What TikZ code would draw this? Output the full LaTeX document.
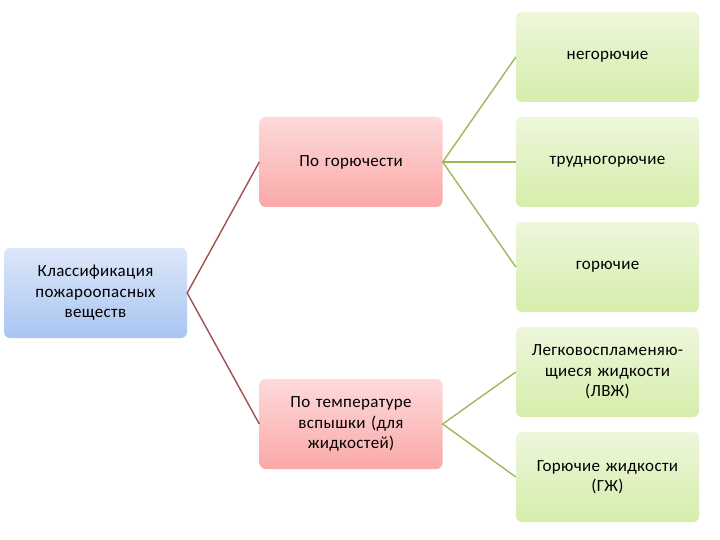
\documentclass[tikz,border=0pt]{standalone}
\usepackage{fontspec}
\setmainfont{Carlito}[LetterSpace=2]
\definecolor{redline}{HTML}{A0504E}
\definecolor{greenline}{HTML}{9BBB59}
\definecolor{bluetop}{HTML}{DDE7F9}
\definecolor{bluebot}{HTML}{A9C5F1}
\definecolor{redtop}{HTML}{FDDADA}
\definecolor{redbot}{HTML}{FBA8A8}
\definecolor{greentop}{HTML}{EDF7DB}
\definecolor{greenbot}{HTML}{D6EDAB}
\begin{document}
\begin{tikzpicture}[x=1pt,y=-1pt,
  box/.style={rounded corners=6pt, minimum width=183pt, minimum height=90pt,
    text width=178pt, align=center, inner sep=0pt,
    font=\fontsize{17}{20.5}\selectfont, text=black},
  bluebox/.style={box, top color=bluetop, bottom color=bluebot},
  redbox/.style={box, top color=redtop, bottom color=redbot},
  greenbox/.style={box, top color=greentop, bottom color=greenbot},
  redlink/.style={draw=redline, line width=1.4pt},
  greenlink/.style={draw=greenline, line width=1.4pt}]
\useasboundingbox (0,0) rectangle (720,540);
\fill[white] (0,0) rectangle (720,540);
\node[bluebox] (root) at (95.5,293) {Классификация\\пожароопасных\\веществ};
\node[redbox] (r1) at (351,162) {По горючести};
\node[redbox] (r2) at (351,424) {По температуре\\вспышки (для\\жидкостей)};
\node[greenbox] (g1) at (607.5,57) {негорючие};
\node[greenbox] (g2) at (607.5,162) {трудногорючие};
\node[greenbox] (g3) at (607.5,267) {горючие};
\node[greenbox] (g4) at (607.5,372) {Легковоспламеняю-\\щиеся жидкости\\(ЛВЖ)};
\node[greenbox] (g5) at (607.5,477) {Горючие жидкости\\(ГЖ)};
\draw[redlink] (r1.west) -- (root.east) -- (r2.west);
\draw[greenlink] (g1.west) -- (r1.east) -- (g3.west);
\draw[greenlink] (r1.east) -- (g2.west);
\draw[greenlink] (g4.west) -- (r2.east) -- (g5.west);
\end{tikzpicture}
\end{document}
